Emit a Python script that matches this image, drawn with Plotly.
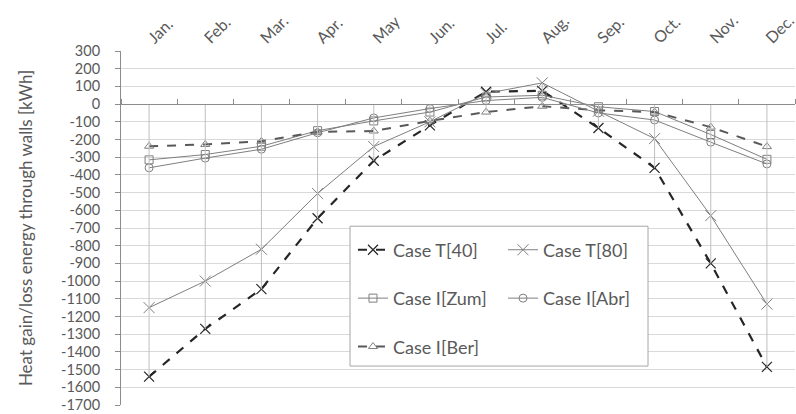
import plotly.graph_objects as go

months = ["Jan.", "Feb.", "Mar.", "Apr.", "May", "Jun.", "Jul.", "Aug.", "Sep.", "Oct.", "Nov.", "Dec."]

case_t40 = [-1540, -1270, -1045, -645, -320, -120, 70, 75, -135, -360, -900, -1485]
case_t80 = [-1150, -1000, -820, -505, -240, -100, 60, 120, -40, -195, -630, -1130]
case_zum = [-315, -285, -238, -150, -95, -45, 40, 50, -15, -42, -172, -312]
case_abr = [-360, -305, -255, -162, -78, -25, 20, 38, -50, -90, -215, -338]
case_ber = [-238, -228, -210, -157, -152, -95, -45, -12, -35, -45, -130, -240]

y_tickvals = [300, 200, 100, 0, -100, -200, -300, -400, -500, -600, -700, -800, -900,
              -1000, -1100, -1200, -1300, -1400, -1500, -1600, -1700]
y_ticktext = ["300", "200", "100", "0", "-100", "-200", "-300", "-400", "-500", "-600",
              "-700", "-800", "-900", "-1000", "-1100", "-1200", "-1300", "-1400",
              "-1500", "-1600", "-1700"]

FONT = "Lato"
TXT = "#595959"
all_series = [case_t40, case_t80, case_zum, case_abr, case_ber]

fig = go.Figure()

# drop lines from the axis (y=0) to the extreme points of each month
dx, dy = [], []
for i, m in enumerate(months):
    vals = [s[i] for s in all_series]
    dx += [m, m, None]
    dy += [min(0, min(vals)), max(0, max(vals)), None]
fig.add_trace(go.Scatter(x=dx, y=dy, mode="lines", xaxis="x2",
                         line=dict(color="#bfbfbf", width=1),
                         showlegend=False, hoverinfo="skip"))

fig.add_trace(go.Scatter(x=months, y=case_t40, name="Case T[40]", mode="lines+markers",
                         legend="legend", legendgroup="a",
                         line=dict(color="#262626", width=2.2, dash="dash"),
                         marker=dict(symbol="x-thin-open", size=10,
                                     line=dict(color="#262626", width=1.2))))
fig.add_trace(go.Scatter(x=months, y=case_zum, name="Case I[Zum]", mode="lines+markers",
                         legend="legend", legendgroup="b",
                         line=dict(color="#7f7f7f", width=1),
                         marker=dict(symbol="square-open", size=8, color="#7f7f7f",
                                     line=dict(color="#7f7f7f", width=1))))
fig.add_trace(go.Scatter(x=months, y=case_ber, name="Case I[Ber]", mode="lines+markers",
                         legend="legend", legendgroup="c",
                         line=dict(color="#595959", width=2, dash="dash"),
                         marker=dict(symbol="triangle-up-open", size=8, color="#7f7f7f",
                                     line=dict(color="#7f7f7f", width=1))))
fig.add_trace(go.Scatter(x=months, y=case_t80, name="Case T[80]", mode="lines+markers",
                         legend="legend2", legendgroup="d",
                         line=dict(color="#7f7f7f", width=1),
                         marker=dict(symbol="x-thin-open", size=11,
                                     line=dict(color="#7f7f7f", width=1))))
fig.add_trace(go.Scatter(x=months, y=case_abr, name="Case I[Abr]", mode="lines+markers",
                         legend="legend2", legendgroup="e",
                         line=dict(color="#7f7f7f", width=1),
                         marker=dict(symbol="circle-open", size=8, color="#7f7f7f",
                                     line=dict(color="#7f7f7f", width=1))))

legend_common = dict(font=dict(family=FONT, size=18, color=TXT),
                     bgcolor="rgba(0,0,0,0)", borderwidth=0,
                     tracegroupgap=22, yanchor="top", xanchor="left",
                     orientation="v", itemwidth=30)

fig.update_layout(
    width=796, height=414,
    margin=dict(l=121, r=1, t=51, b=9),
    paper_bgcolor="white", plot_bgcolor="white",
    font=dict(family=FONT, size=16, color=TXT),
    xaxis=dict(type="category", categoryorder="array", categoryarray=months,
               range=[-0.5, 11.5], side="top", showline=False, showgrid=False,
               ticks="", tickangle=-45, tickfont=dict(size=16, color=TXT),
               zeroline=False, automargin=False),
    xaxis2=dict(type="category", categoryorder="array", categoryarray=months,
                range=[-0.5, 11.5], overlaying="x", anchor="free", position=0.85,
                side="top", showline=True, linecolor="#8c8c8c", linewidth=1,
                ticks="outside", tickson="boundaries", ticklen=5, tickcolor="#8c8c8c",
                showticklabels=False, showgrid=False, zeroline=False, automargin=False),
    yaxis=dict(range=[-1700, 300], tickvals=y_tickvals, ticktext=y_ticktext,
               showline=True, linecolor="#8c8c8c", ticks="outside", ticklen=5,
               tickcolor="#8c8c8c", gridcolor="#d9d9d9", gridwidth=1,
               zeroline=False, tickfont=dict(size=14.5, color=TXT),
               ticklabelstandoff=12, automargin=False, ticklabeloverflow="allow",
               title=dict(text="Heat gain/loss energy through walls [kWh]",
                          font=dict(size=17, color=TXT), standoff=24)),
    legend=dict(x=0.3442, y=0.49, **legend_common),
    legend2=dict(x=0.5668, y=0.49, **legend_common),
    shapes=[dict(type="rect", xref="paper", yref="paper", x0=0.3398, x1=0.7819,
                 y0=0.11, y1=0.505, line=dict(color="#a6a6a6", width=1),
                 fillcolor="white", layer="above")],
)

fig.write_html("out.html", config={"displayModeBar": False},
               post_script="document.body.style.margin='0';document.body.style.padding='0';")
